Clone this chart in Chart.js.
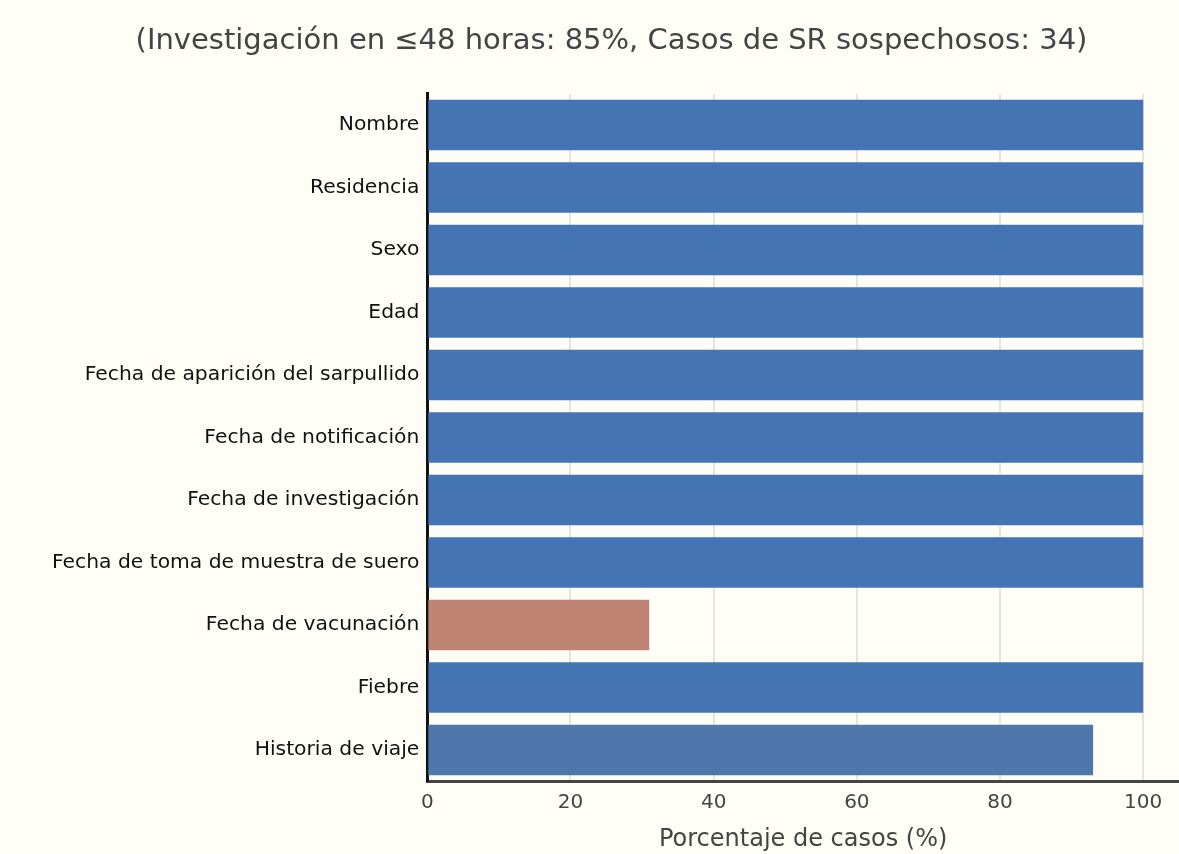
<!DOCTYPE html>
<html>
<head>
<meta charset="utf-8">
<script src="https://cdn.jsdelivr.net/npm/chart.js@4"></script>
<style>
    html, body { margin: 0; padding: 0; background: #fffef6; }
    #wrap { width: 1179px; height: 854px; }
</style>
</head>
<body>
<div id="wrap"><canvas id="chart" width="1179" height="854"></canvas></div>
<script>
const categories = [
    'Nombre', 'Residencia', 'Sexo', 'Edad',
    'Fecha de aparición del sarpullido', 'Fecha de notificación',
    'Fecha de investigación', 'Fecha de toma de muestra de suero',
    'Fecha de vacunación', 'Fiebre', 'Historia de viaje'
];
const completeness = [100, 100, 100, 100, 100, 100, 100, 100, 31, 100, 93];
const xTicks = [0, 20, 40, 60, 80, 100];
const titleText = '(Investigación en ≤48 horas: 85%, Casos de SR sospechosos: 34)';
const xTitle = 'Porcentaje de casos (%)';

// low values get the salmon colour, the partly complete one a muted blue
const barColors = completeness.map(v => v < 80 ? '#c08474' : (v < 100 ? '#4e77ac' : '#4474b4'));

const bgPlugin = {
    id: 'bg',
    beforeDraw(chart) {
        const ctx = chart.ctx;
        ctx.save();
        ctx.fillStyle = '#fffef6';
        ctx.fillRect(0, 0, chart.width, chart.height);
        ctx.restore();
    }
};

const font = 'DejaVu Sans';

new Chart(document.getElementById('chart'), {
    type: 'bar',
    data: {
        labels: categories,
        datasets: [{
            data: completeness,
            backgroundColor: barColors,
            borderWidth: 0,
            categoryPercentage: 1,
            barPercentage: 0.81
        }]
    },
    options: {
        indexAxis: 'y',
        responsive: false,
        animation: false,
        layout: { padding: { left: 44, right: 0, top: 0, bottom: 0 } },
        scales: {
            x: {
                min: 0,
                max: 105,
                afterBuildTicks: axis => { axis.ticks = xTicks.map(v => ({ value: v })); },
                grid: { color: '#e4e4e0', lineWidth: 2, drawTicks: false },
                border: { display: true, color: '#444', width: 3 },
                ticks: { color: '#444', font: { family: font, size: 20 }, padding: 10 },
                title: { display: true, text: xTitle, color: '#444', font: { family: font, size: 24 }, padding: { top: 0, bottom: 0 } }
            },
            y: {
                grid: { display: false, drawTicks: false },
                border: { display: true, color: '#111', width: 3 },
                ticks: { color: '#111', font: { family: font, size: 20.3 }, padding: 8 }
            }
        },
        plugins: {
            legend: { display: false },
            tooltip: { enabled: false },
            title: {
                display: true,
                text: titleText,
                color: '#444',
                font: { family: font, size: 29, weight: 'normal' },
                padding: { top: 24, bottom: 35 }
            }
        }
    },
    plugins: [bgPlugin]
});
</script>
</body>
</html>
